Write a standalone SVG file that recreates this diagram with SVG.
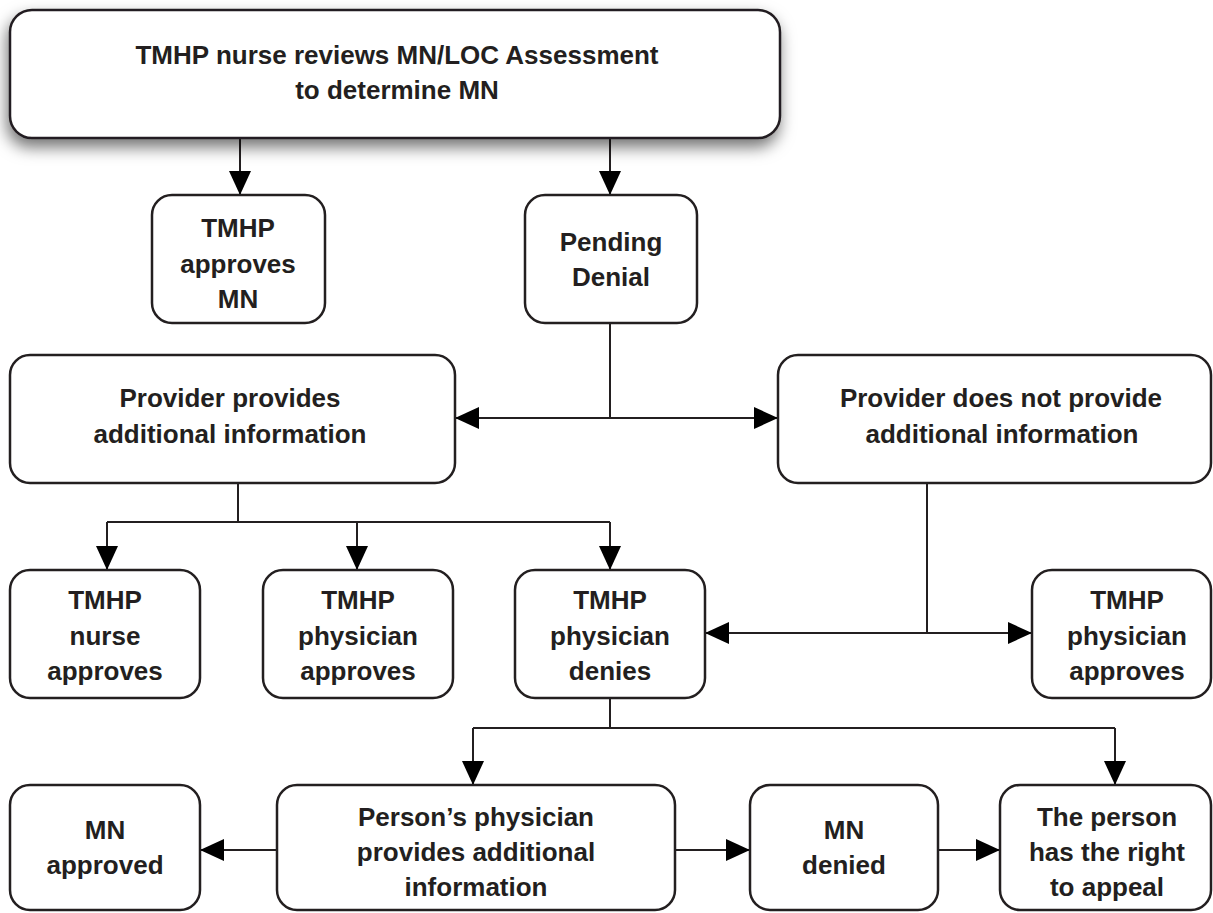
<svg xmlns="http://www.w3.org/2000/svg" width="1213" height="913" viewBox="0 0 1213 913">
<style>
.box{fill:#fff;stroke:#231f20;stroke-width:2.5}
.t{font-family:"Liberation Sans",Arial,sans-serif;font-weight:bold;font-size:26px;fill:#231f20;text-anchor:middle}
.c{fill:none;stroke:#231f20;stroke-width:2}
</style>
<defs>
<marker id="ah" markerUnits="userSpaceOnUse" markerWidth="24" markerHeight="22" refX="24" refY="11" orient="auto">
<path d="M0,0 L24,11 L0,22 z" fill="#000"/>
</marker>
<filter id="sh" x="-10%" y="-30%" width="120%" height="170%">
<feDropShadow dx="-2" dy="8" stdDeviation="8" flood-color="#000" flood-opacity="0.55"/>
</filter>
</defs>
<rect width="1213" height="913" fill="#fff"/>
<g id="connectors">
<path class="c" d="M240,138 V195" marker-end="url(#ah)"/>
<path class="c" d="M610,138 V195" marker-end="url(#ah)"/>
<path class="c" d="M610,323 V418"/>
<path class="c" d="M610,418 H455" marker-end="url(#ah)"/>
<path class="c" d="M610,418 H778" marker-end="url(#ah)"/>
<path class="c" d="M238,483 V522 M107,522 H610"/>
<path class="c" d="M107,522 V570" marker-end="url(#ah)"/>
<path class="c" d="M357,522 V570" marker-end="url(#ah)"/>
<path class="c" d="M610,522 V570" marker-end="url(#ah)"/>
<path class="c" d="M927,483 V633"/>
<path class="c" d="M927,633 H705" marker-end="url(#ah)"/>
<path class="c" d="M927,633 H1032" marker-end="url(#ah)"/>
<path class="c" d="M610,698 V728 M473,728 H1115"/>
<path class="c" d="M473,728 V785" marker-end="url(#ah)"/>
<path class="c" d="M1115,728 V785" marker-end="url(#ah)"/>
<path class="c" d="M277,850 H200" marker-end="url(#ah)"/>
<path class="c" d="M675,850 H750" marker-end="url(#ah)"/>
<path class="c" d="M938,850 H1000" marker-end="url(#ah)"/>
</g>
<g id="n-review">
<rect class="box" x="10" y="10" width="770" height="128" rx="22" filter="url(#sh)"/>
<text class="t" x="397" y="64">TMHP nurse reviews MN/LOC Assessment</text>
<text class="t" x="397" y="99">to determine MN</text>
</g>
<g id="n-approves-mn">
<rect class="box" x="152" y="195" width="173" height="128" rx="20"/>
<text class="t" x="238" y="237">TMHP</text>
<text class="t" x="238" y="273">approves</text>
<text class="t" x="238" y="308">MN</text>
</g>
<g id="n-pending">
<rect class="box" x="525" y="195" width="172" height="128" rx="20"/>
<text class="t" x="611" y="251">Pending</text>
<text class="t" x="611" y="286">Denial</text>
</g>
<g id="n-provides">
<rect class="box" x="10" y="355" width="445" height="128" rx="20"/>
<text class="t" x="230" y="407">Provider provides</text>
<text class="t" x="230" y="443">additional information</text>
</g>
<g id="n-not-provide">
<rect class="box" x="778" y="355" width="433" height="128" rx="20"/>
<text class="t" x="1001" y="407">Provider does not provide</text>
<text class="t" x="1002" y="443">additional information</text>
</g>
<g id="n-nurse-approves">
<rect class="box" x="10" y="570" width="190" height="128" rx="20"/>
<text class="t" x="105" y="609">TMHP</text>
<text class="t" x="105" y="645">nurse</text>
<text class="t" x="105" y="680">approves</text>
</g>
<g id="n-phys-approves">
<rect class="box" x="263" y="570" width="190" height="128" rx="20"/>
<text class="t" x="358" y="609">TMHP</text>
<text class="t" x="358" y="645">physician</text>
<text class="t" x="358" y="680">approves</text>
</g>
<g id="n-phys-denies">
<rect class="box" x="515" y="570" width="190" height="128" rx="20"/>
<text class="t" x="610" y="609">TMHP</text>
<text class="t" x="610" y="645">physician</text>
<text class="t" x="610" y="680">denies</text>
</g>
<g id="n-phys-approves-2">
<rect class="box" x="1032" y="570" width="179" height="128" rx="20"/>
<text class="t" x="1127" y="609">TMHP</text>
<text class="t" x="1127" y="645">physician</text>
<text class="t" x="1127" y="680">approves</text>
</g>
<g id="n-mn-approved">
<rect class="box" x="10" y="785" width="190" height="125" rx="20"/>
<text class="t" x="105" y="839">MN</text>
<text class="t" x="105" y="874">approved</text>
</g>
<g id="n-person-phys">
<rect class="box" x="277" y="785" width="398" height="125" rx="20"/>
<text class="t" x="476" y="826">Person’s physician</text>
<text class="t" x="476" y="861">provides additional</text>
<text class="t" x="476" y="896">information</text>
</g>
<g id="n-mn-denied">
<rect class="box" x="750" y="785" width="188" height="125" rx="20"/>
<text class="t" x="844" y="839">MN</text>
<text class="t" x="844" y="874">denied</text>
</g>
<g id="n-appeal">
<rect class="box" x="1000" y="785" width="211" height="125" rx="20"/>
<text class="t" x="1107" y="826">The person</text>
<text class="t" x="1107" y="861">has the right</text>
<text class="t" x="1107" y="896">to appeal</text>
</g>
</svg>
